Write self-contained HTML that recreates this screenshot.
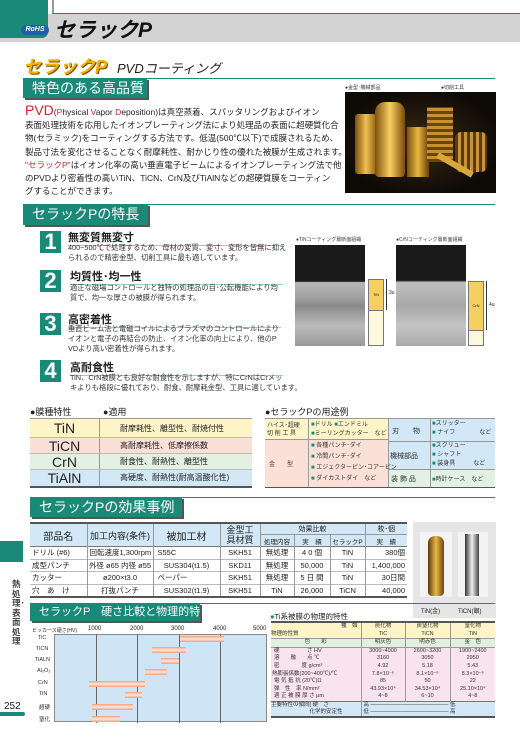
<!DOCTYPE html>
<html><head><meta charset="utf-8"><style>
*{margin:0;padding:0;box-sizing:border-box}
body{width:520px;height:738px;position:relative;background:#fff;font-family:"Liberation Sans","Noto Sans CJK JP",sans-serif;color:#222;overflow:hidden}
.a{position:absolute;white-space:nowrap}
.tl{background:#1a8a78;color:#fff;font-size:14px;line-height:20px;padding-left:9px;box-shadow:2px 2px 0 #555;overflow:hidden}
.hl{height:1px;background:#1a8a78}
.num{position:absolute;width:21px;height:22px;background:#1a8a78;color:#fff;font:bold 22px/22px "Liberation Sans",sans-serif;text-align:center}
.it{font-size:11px;font-weight:bold;border-bottom:1px solid #9cc}
.ds{font-size:7.3px;line-height:10px;color:#333}
table{border-collapse:collapse}
td{padding:0;text-align:center;white-space:nowrap}
</style></head><body>
<div class="a" style="left:0;top:14px;width:520px;height:28px;background:#d3d3d3"></div>
<div class="a" style="left:0;top:0;width:48px;height:38px;background:#1a8a78;border-bottom-right-radius:6px"></div>
<div class="a" style="left:52px;top:0;width:2px;height:14px;background:#999"></div>
<div class="a" style="left:52px;top:13px;width:468px;height:1px;background:#1a8a78"></div>
<div class="a" style="left:21px;top:25px;width:28px;height:10px;background:#1f5fa8;border-radius:5px;color:#fff;font:bold italic 7px/10px 'Liberation Sans';text-align:center">RoHS</div>
<div class="a" style="left:54px;top:19px;font:bold italic 21px/24px 'Liberation Sans','Noto Sans CJK JP',sans-serif;color:#111">セラックP</div>
<div class="a" style="left:23px;top:57px;font:bold italic 18px/20px 'Liberation Sans','Noto Sans CJK JP',sans-serif;color:#f2b400;text-shadow:1px 1px 0 #7a4a00">セラックP</div>
<div class="a" style="left:117px;top:61px;font:italic 13px/16px 'Liberation Sans','Noto Sans CJK JP',sans-serif">PVDコーティング</div>
<div class="a hl" style="left:23px;top:78px;width:472px"></div>
<div class="a tl" style="left:23px;top:78px;width:124px;height:20px">特色のある高品質</div>
<div class="a" style="left:25px;top:104px;font-size:8.5px;line-height:13.2px;color:#222"><span style="color:#d2232a;font-size:14px">PVD</span>(<span style="color:#d2232a">P</span>hysical <span style="color:#d2232a">V</span>apor <span style="color:#d2232a">D</span>eposition)は真空蒸着、スパッタリングおよびイオン<br>表面処理技術を応用したイオンプレーティング法により処理品の表面に超硬質化合<br>物(セラミック)をコーティングする方法です。低温(500℃以下)で成膜されるため、<br>製品寸法を変化させることなく耐摩耗性、耐かじり性の優れた被膜が生成されます。<br><span style="color:#d2232a">"セラックP"</span>はイオン化率の高い垂直電子ビームによるイオンプレーティング法で他<br>のPVDより密着性の高いTiN、TiCN、CrN及びTiAlNなどの超硬質膜をコーティン<br>グすることができます。</div>
<div class="a" style="left:345px;top:84px;font-size:5px;color:#333">●金型･機械部品</div>
<div class="a" style="left:441px;top:84px;font-size:5px;color:#333">●切削工具</div>
<div class="a" style="left:345px;top:92px;width:151px;height:101px;background:radial-gradient(ellipse at 50% 50%,#3a2a14,#0e0a06 75%);overflow:hidden">
<div class="a" style="left:10px;top:22px;width:22px;height:60px;background:linear-gradient(90deg,#7a5010,#f0c050,#8a5a10);border-radius:3px"></div>
<div class="a" style="left:30px;top:10px;width:30px;height:75px;background:linear-gradient(90deg,#805010,#f7d060,#7a4a08);border-radius:10px 10px 4px 4px"></div>
<div class="a" style="left:62px;top:35px;width:22px;height:50px;background:linear-gradient(90deg,#7a5010,#e9b840,#6a4008)"></div>
<div class="a" style="left:82px;top:15px;width:26px;height:55px;background:repeating-linear-gradient(0deg,#6a4410 0 3px,#c99030 3px 6px)"></div>
<div class="a" style="left:110px;top:40px;width:32px;height:40px;background:repeating-linear-gradient(90deg,#5a3a10 0 3px,#c89238 3px 6px);border-radius:6px"></div>
<div class="a" style="left:90px;top:70px;width:40px;height:6px;background:#d8a840;transform:rotate(30deg)"></div>
</div>
<div class="a hl" style="left:23px;top:204px;width:472px"></div>
<div class="a tl" style="left:23px;top:204px;width:125px;height:21px">セラックPの特長</div>
<div class="num" style="left:40px;top:231px">1</div>
<div class="a it" style="left:68px;top:229px;width:215px">無変質無変寸</div>
<div class="a ds" style="left:68px;top:243px">400~500℃で処理するため、母材の変質、変寸、変形を皆無に抑え<br>られるので精密金型、切削工具に最も適しています。</div>
<div class="num" style="left:40px;top:270px">2</div>
<div class="a it" style="left:70px;top:268px;width:213px">均質性･均一性</div>
<div class="a ds" style="left:70px;top:283px">適正な磁場コントロールと独特の処理品の自･公転機能により均<br>質で、均一な厚さの被膜が得られます。</div>
<div class="num" style="left:40px;top:313px">3</div>
<div class="a it" style="left:68px;top:311px;width:213px">高密着性</div>
<div class="a ds" style="left:68px;top:324px">垂直ビーム法と電磁コイルによるプラズマのコントロールにより<br>イオンと電子の再結合の防止、イオン化率の向上により、他のP<br>VDより高い密着性が得られます。</div>
<div class="num" style="left:40px;top:360px">4</div>
<div class="a it" style="left:70px;top:359px;width:213px">高耐食性</div>
<div class="a ds" style="left:70px;top:373px">TiN、CrN被膜とも良好な耐食性を示しますが、特にCrNはCrメッ<br>キよりも格段に優れており、耐食、耐摩耗金型、工具に適しています。</div>
<div class="a" style="left:296px;top:236px;font-size:5px;color:#444">●TiNコーティング層断面組織</div>
<div class="a" style="left:396px;top:236px;font-size:5px;color:#444">●CrNコーティング層断面組織</div>
<div class="a" style="left:295px;top:245px;width:70px;height:101px;background:linear-gradient(180deg,#1a1a1a 0 36%,#b8b8b8 37%,#a0a0a0 52%,#8a8a8a 60%,#bbb 80%,#999)"></div>
<div class="a" style="left:368px;top:279px;width:16px;height:32px;background:#f5d060;border:1px solid #777;font-size:4px;line-height:30px;text-align:center">TiN</div>
<div class="a" style="left:368px;top:310px;width:16px;height:36px;background:#fdf8dc;border:1px solid #777"></div>
<div class="a" style="left:386px;top:279px;width:1px;height:31px;background:#333"></div>
<div class="a" style="left:389px;top:290px;font-size:5px">3u</div>
<div class="a" style="left:396px;top:245px;width:70px;height:101px;background:linear-gradient(180deg,#1a1a1a 0 35%,#c0c0c0 37%,#a8a8a8 60%,#c4c4c4 80%,#aaa)"></div>
<div class="a" style="left:468px;top:281px;width:16px;height:50px;background:#f5d060;border:1px solid #777;font-size:4px;line-height:48px;text-align:center">CrN</div>
<div class="a" style="left:468px;top:330px;width:16px;height:16px;background:#fdf8dc;border:1px solid #777"></div>
<div class="a" style="left:486px;top:281px;width:1px;height:49px;background:#333"></div>
<div class="a" style="left:489px;top:302px;font-size:5px">4u</div>
<div class="a" style="left:30px;top:405px;font-size:9px">●膜種特性</div>
<div class="a" style="left:103px;top:405px;font-size:9px">●適用</div>
<div class="a" style="left:30px;top:418px;width:222px;border-top:1px solid #999;border-bottom:2px solid #555">
<div style="height:19px;background:#fdf5c8;display:flex;border-bottom:1px solid #bbb"><div style="width:70px;font-size:14px;line-height:19px;text-align:center;border-right:1px solid #999">TiN</div><div style="padding-left:20px;font-size:8px;line-height:19px">耐摩耗性、離型性、耐焼付性</div></div>
<div style="height:16px;background:#fbe0d8;display:flex;border-bottom:1px solid #bbb"><div style="width:70px;font-size:14px;line-height:16px;text-align:center;border-right:1px solid #999">TiCN</div><div style="padding-left:20px;font-size:8px;line-height:16px">高耐摩耗性、低摩擦係数</div></div>
<div style="height:16px;background:#e2f1e2;display:flex;border-bottom:1px solid #bbb"><div style="width:70px;font-size:14px;line-height:16px;text-align:center;border-right:1px solid #999">CrN</div><div style="padding-left:20px;font-size:8px;line-height:16px">耐食性、耐熱性、離型性</div></div>
<div style="height:16px;background:#d2e8f6;display:flex"><div style="width:70px;font-size:14px;line-height:16px;text-align:center;border-right:1px solid #999">TiAlN</div><div style="padding-left:20px;font-size:8px;line-height:16px">高硬度、耐熱性(耐高温酸化性)</div></div>
</div>
<div class="a" style="left:265px;top:405px;font-size:9px">●セラックPの用途例</div>
<div class="a" style="left:265px;top:418px;width:230px;height:70px;border-top:1px solid #999;border-bottom:2px solid #555;font-size:6px;color:#333">
<div class="a" style="left:0;top:0;width:123px;height:20px;background:#fdf5c8"></div>
<div class="a" style="left:0;top:20px;width:123px;height:48px;background:#fbe0d8"></div>
<div class="a" style="left:123px;top:0;width:107px;height:50px;background:#d2e8f6"></div>
<div class="a" style="left:123px;top:50px;width:107px;height:18px;background:#e2f1e2"></div>
<div class="a" style="left:43px;top:0;width:1px;height:68px;background:#999"></div>
<div class="a" style="left:123px;top:0;width:1px;height:68px;background:#999"></div>
<div class="a" style="left:165px;top:0;width:1px;height:68px;background:#999"></div>
<div class="a" style="left:0;top:20px;width:123px;height:1px;background:#999"></div>
<div class="a" style="left:123px;top:22px;width:107px;height:1px;background:#999"></div>
<div class="a" style="left:123px;top:50px;width:107px;height:1px;background:#999"></div>
<div class="a" style="left:2px;top:3px;line-height:8px">ハイス･超硬<br>切 削 工 具</div>
<div class="a" style="left:46px;top:2px;line-height:9px"><span style="color:#1a8a78">■</span>ドリル <span style="color:#1a8a78">■</span>エンドミル<br><span style="color:#1a8a78">■</span>ミーリングカッター　など</div>
<div class="a" style="left:4px;top:40px">金　　型</div>
<div class="a" style="left:46px;top:22px;line-height:11px"><span style="color:#1a8a78">■</span> 各種パンチ･ダイ<br><span style="color:#1a8a78">■</span> 冷間パンチ･ダイ<br><span style="color:#1a8a78">■</span> エジェクターピン･コアーピン<br><span style="color:#1a8a78">■</span> ダイカストダイ　など</div>
<div class="a" style="left:127px;top:7px;font-size:7px">刃　　物</div>
<div class="a" style="left:167px;top:1px;line-height:9px"><span style="color:#1a8a78">■</span>スリッター<br><span style="color:#1a8a78">■</span> ナイフ　　　　など</div>
<div class="a" style="left:125px;top:32px;font-size:7px">機械部品</div>
<div class="a" style="left:167px;top:23px;line-height:9px"><span style="color:#1a8a78">■</span>スクリュー<br><span style="color:#1a8a78">■</span> シャフト<br><span style="color:#1a8a78">■</span> 装身具　　　など</div>
<div class="a" style="left:126px;top:55px;font-size:7px">装 飾 品</div>
<div class="a" style="left:167px;top:55px"><span style="color:#1a8a78">■</span>時計ケース　など</div>
</div>
<div class="a hl" style="left:30px;top:497px;width:465px"></div>
<div class="a tl" style="left:30px;top:497px;width:152px;height:20px">セラックPの効果事例</div>
<table class="a" style="left:30px;top:522px;width:377px;font-size:7.5px;border-top:2px solid #555;border-bottom:2px solid #555">
<colgroup><col style="width:57px"><col style="width:66px"><col style="width:67px"><col style="width:40px"><col style="width:34px"><col style="width:36px"><col style="width:35px"><col style="width:42px"></colgroup>
<tr style="background:#d2e8f6;height:11px"><td rowspan="2" style="font-size:10px;border-right:1px solid #999">部品名</td><td rowspan="2" style="font-size:9px;border-right:1px solid #999">加工内容(条件)</td><td rowspan="2" style="font-size:10px;border-right:1px solid #999">被加工材</td><td rowspan="2" style="font-size:9px;line-height:10px;border-right:1px solid #999">金型工<br>具材質</td><td colspan="3" style="border-bottom:1px solid #999;font-size:7px">効果比較</td><td style="border-bottom:1px solid #999;border-left:1px solid #999;font-size:7px">枚･個</td></tr>
<tr style="background:#d2e8f6;height:12px;font-size:6.5px"><td style="border-right:1px solid #999">処理内容</td><td style="border-right:1px solid #999">実　績</td><td style="border-right:1px solid #999">セラックP</td><td>実　績</td></tr>
<tr style="height:12.5px;border-top:1px solid #777;border-bottom:1px solid #bbb"><td style="text-align:left;padding-left:2px;border-right:1px solid #999">ドリル (#6)</td><td style="text-align:left;padding-left:2px;border-right:1px solid #999">回転速度1,300rpm</td><td style="text-align:left;padding-left:4px;border-right:1px solid #999">S55C</td><td style="border-right:1px solid #999">SKH51</td><td style="border-right:1px solid #999">無処理</td><td style="border-right:1px solid #999">4 0 個</td><td style="border-right:1px solid #999">TiN</td><td style="text-align:right;padding-right:2px">380個</td></tr>
<tr style="height:12.5px;border-bottom:1px solid #bbb"><td style="text-align:left;padding-left:2px;border-right:1px solid #999">成型パンチ</td><td style="border-right:1px solid #999">外径 ø65 内径 ø55</td><td style="border-right:1px solid #999">SUS304(t1.5)</td><td style="border-right:1px solid #999">SKD11</td><td style="border-right:1px solid #999">無処理</td><td style="border-right:1px solid #999">50,000</td><td style="border-right:1px solid #999">TiN</td><td style="text-align:right;padding-right:2px">1,400,000</td></tr>
<tr style="height:12.5px;border-bottom:1px solid #bbb"><td style="text-align:left;padding-left:2px;border-right:1px solid #999">カッター</td><td style="border-right:1px solid #999">ø200×t3.0</td><td style="text-align:left;padding-left:4px;border-right:1px solid #999">ペーパー</td><td style="border-right:1px solid #999">SKH51</td><td style="border-right:1px solid #999">無処理</td><td style="border-right:1px solid #999">5 日 間</td><td style="border-right:1px solid #999">TiN</td><td style="text-align:right;padding-right:2px">30日間</td></tr>
<tr style="height:12.5px"><td style="text-align:left;padding-left:2px;border-right:1px solid #999">穴　あ　け</td><td style="border-right:1px solid #999">打抜パンチ</td><td style="border-right:1px solid #999">SUS302(t1.9)</td><td style="border-right:1px solid #999">SKH51</td><td style="border-right:1px solid #999">TiN</td><td style="border-right:1px solid #999">26,000</td><td style="border-right:1px solid #999">TiCN</td><td style="text-align:right;padding-right:2px">40,000</td></tr>
</table>
<div class="a" style="left:413px;top:522px;width:83px;height:96px;background:#e6e6e6">
<div class="a" style="left:7px;top:10px;width:32px;height:65px;background:#f3f3f3"></div>
<div class="a" style="left:45px;top:10px;width:30px;height:65px;background:#f3f3f3"></div>
<div class="a" style="left:15px;top:14px;width:16px;height:60px;background:linear-gradient(90deg,#5a3a08,#e8b848,#6a4408);border-radius:7px 7px 4px 4px"></div>
<div class="a" style="left:52px;top:12px;width:14px;height:62px;background:linear-gradient(90deg,#333,#eee,#444)"></div>
<div class="a" style="left:8px;top:84px;font-size:6px">TiN(金)</div>
<div class="a" style="left:45px;top:84px;font-size:6px">TiCN(銀)</div>
</div>
<div class="a" style="left:0;top:541px;width:23px;height:21px;background:#1a8a78"></div>
<div class="a" style="left:12px;top:580px;width:10px;font-size:8.5px;line-height:9.5px;white-space:normal;font-weight:bold;color:#444">熱処理･表面処理</div>
<div class="a" style="left:4px;top:701px;font-size:10px">252</div>
<div class="a" style="left:0;top:712px;width:25px;height:4px;background:#1a8a78;border-radius:0 3px 3px 0"></div>
<div class="a hl" style="left:30px;top:603px;width:465px"></div>
<div class="a tl" style="left:30px;top:603px;width:170px;height:18px;font-size:11px;line-height:18px">セラックP　硬さ比較と物理的特性</div>
<div class="a" style="left:32px;top:627px;font-size:5px">ビッカース硬さ(HV)</div>
<div class="a" style="left:88px;top:626px;font-size:6px">1000</div>
<div class="a" style="left:130px;top:626px;font-size:6px">2000</div>
<div class="a" style="left:171px;top:626px;font-size:6px">3000</div>
<div class="a" style="left:213px;top:626px;font-size:6px">4000</div>
<div class="a" style="left:253px;top:626px;font-size:6px">5000</div>
<div class="a" style="left:54px;top:634px;width:213px;height:88px;background:#cfe5f5;border:1px solid #888">
<div class="a" style="left:41px;top:0;width:1px;height:88px;background:#666"></div>
<div class="a" style="left:82px;top:0;width:1px;height:88px;background:#666"></div>
<div class="a" style="left:124px;top:0;width:1px;height:88px;background:#666"></div>
<div class="a" style="left:165px;top:0;width:1px;height:88px;background:#666"></div>
</div>
<div class="a" style="left:0;top:0;font-size:5.5px;color:#333">
<div class="a" style="left:38px;top:635px">TiC</div><div class="a" style="left:36px;top:646px">TiCN</div><div class="a" style="left:35px;top:657px">TiALN</div><div class="a" style="left:37px;top:668px">Al₂O₃</div><div class="a" style="left:38px;top:680px">CrN</div><div class="a" style="left:39px;top:691px">TiN</div><div class="a" style="left:39px;top:703px">超硬</div><div class="a" style="left:39px;top:715px">窒化</div>
</div>
<div style="position:absolute;left:0;top:0">
<div class="a" style="left:180px;top:636px;width:44px;height:6px;background:linear-gradient(#f0a07c,#fde8dc 50%,#f0a07c)"></div>
<div class="a" style="left:152px;top:647px;width:34px;height:6px;background:linear-gradient(#f0a07c,#fde8dc 50%,#f0a07c)"></div>
<div class="a" style="left:161px;top:658px;width:18px;height:6px;background:linear-gradient(#f0a07c,#fde8dc 50%,#f0a07c)"></div>
<div class="a" style="left:145px;top:669px;width:22px;height:6px;background:linear-gradient(#f0a07c,#fde8dc 50%,#f0a07c)"></div>
<div class="a" style="left:89px;top:681px;width:56px;height:6px;background:linear-gradient(#f0a07c,#fde8dc 50%,#f0a07c)"></div>
<div class="a" style="left:125px;top:692px;width:17px;height:6px;background:linear-gradient(#f0a07c,#fde8dc 50%,#f0a07c)"></div>
<div class="a" style="left:92px;top:704px;width:41px;height:6px;background:linear-gradient(#f0a07c,#fde8dc 50%,#f0a07c)"></div>
<div class="a" style="left:92px;top:716px;width:28px;height:6px;background:linear-gradient(#f0a07c,#fde8dc 50%,#f0a07c)"></div>
</div>
<div class="a" style="left:270px;top:611px;font-size:7.5px"><span style="color:#1a8a78">●</span>Ti系被膜の物理的特性</div>
<table class="a" style="left:271px;top:621px;width:224px;font-size:5.5px;line-height:7.6px;border-top:2px solid #555;border-bottom:2px solid #555;color:#333">
<colgroup><col style="width:90px"><col style="width:44px"><col style="width:45px"><col style="width:45px"></colgroup>
<tr style="background:#fdf5c8"><td style="text-align:right;padding-right:3px">種　類</td><td style="border-left:1px solid #999">炭化物</td><td style="border-left:1px solid #999">炭窒化物</td><td style="border-left:1px solid #999">窒化物</td></tr>
<tr style="background:#fdf5c8;border-bottom:1px solid #999"><td style="text-align:left">物理的性質</td><td style="border-left:1px solid #999">TiC</td><td style="border-left:1px solid #999">TiCN</td><td style="border-left:1px solid #999">TiN</td></tr>
<tr style="background:#dff0dc;border-bottom:1px solid #999"><td>色　　彩</td><td style="border-left:1px solid #999">明灰色</td><td style="border-left:1px solid #999">明赤色</td><td style="border-left:1px solid #999">金　色</td></tr>
<tr style="background:#f9e3ee"><td style="text-align:left;padding-left:3px">硬　　　　　さ HV</td><td style="border-left:1px solid #999">3000~4000</td><td style="border-left:1px solid #999">2600~3200</td><td style="border-left:1px solid #999">1900~2400</td></tr>
<tr style="background:#f9e3ee"><td style="text-align:left;padding-left:3px">溶　　融　　点 ℃</td><td style="border-left:1px solid #999">3160</td><td style="border-left:1px solid #999">3050</td><td style="border-left:1px solid #999">2950</td></tr>
<tr style="background:#f9e3ee"><td style="text-align:left;padding-left:3px">密　　　　度 g/cm³</td><td style="border-left:1px solid #999">4.92</td><td style="border-left:1px solid #999">5.18</td><td style="border-left:1px solid #999">5.43</td></tr>
<tr style="background:#f9e3ee"><td style="text-align:left;padding-left:1px">熱膨張係数(200~400℃)/℃</td><td style="border-left:1px solid #999">7.8×10⁻⁶</td><td style="border-left:1px solid #999">8.1×10⁻⁶</td><td style="border-left:1px solid #999">8.3×10⁻⁶</td></tr>
<tr style="background:#f9e3ee"><td style="text-align:left;padding-left:3px">電 気 抵 抗 (20℃)Ω</td><td style="border-left:1px solid #999">85</td><td style="border-left:1px solid #999">50</td><td style="border-left:1px solid #999">22</td></tr>
<tr style="background:#f9e3ee"><td style="text-align:left;padding-left:3px">弾　性　率 N/mm²</td><td style="border-left:1px solid #999">43.93×10⁴</td><td style="border-left:1px solid #999">34.53×10⁴</td><td style="border-left:1px solid #999">25.10×10⁴</td></tr>
<tr style="background:#f9e3ee;border-bottom:1px solid #777"><td style="text-align:left;padding-left:3px">適 正 被 膜 厚 さ μm</td><td style="border-left:1px solid #999">4~8</td><td style="border-left:1px solid #999">6~10</td><td style="border-left:1px solid #999">4~8</td></tr>
<tr style="background:#d2e8f6;height:16px"><td style="text-align:left;line-height:7px">主要特性の傾向[ 硬　さ<br>　　　　　　　化学的安定性</td><td colspan="3" style="border-left:1px solid #999;text-align:left;line-height:7px;padding:0 2px">高 ──────────────────── 低<br>低 ──────────────────── 高</td></tr>
</table>
</body></html>
